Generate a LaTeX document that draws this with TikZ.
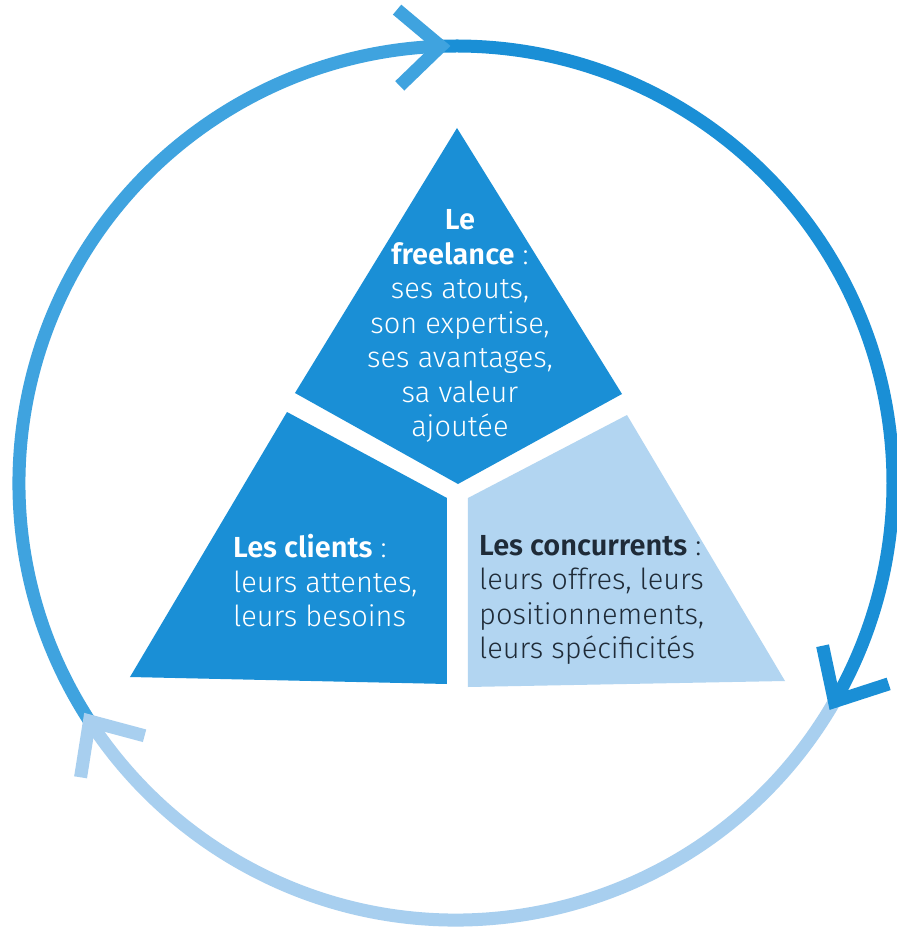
\documentclass[tikz,border=0pt]{standalone}
\usepackage{fontspec}
\setmainfont{Fira Sans Light}[BoldFont={Fira Sans SemiBold}]
\begin{document}
\begin{tikzpicture}[x=1pt,y=1pt,
  cycle/.style={line width=13pt,line cap=butt},
  head/.style={line width=13pt,line cap=butt,line join=miter},
  piece/.style={draw=none},
  label/.style={inner sep=0pt,font=\fontsize{29}{34.5}\selectfont},
]
\definecolor{deepblue}{HTML}{1A8FD6}
\definecolor{midblue}{HTML}{3FA3DF}
\definecolor{paleblue}{HTML}{A8CFEF}
\definecolor{piecepale}{HTML}{B2D5F1}
\definecolor{inkdark}{HTML}{1F2B38}
% page frame, circle centre at the origin
\useasboundingbox (-456,-449) rectangle (441,483);
\fill[white] (-456,-449) rectangle (441,483);

% the three arcs of the cycle (clockwise)
\draw[cycle,midblue]  (213:437) arc[start angle=213,end angle=92,radius=437];
\draw[cycle,deepblue] (92:437) arc[start angle=92,end angle=-30,radius=437];
\draw[cycle,paleblue] (-30:437) arc[start angle=-30,end angle=-147,radius=437];

% arrow heads at the ends of the arcs
\coordinate (tipTop)   at (92:437);
\coordinate (tipRight) at (-30:437);
\coordinate (tipLeft)  at (213:437);
\draw[head,midblue]  (tipTop)   ++(224:57) -- (tipTop)   -- ++(140:57);
\draw[head,deepblue] (tipRight) ++(102:57) -- (tipRight) -- ++(18:57);
\draw[head,paleblue] (tipLeft)  ++(345:57) -- (tipLeft)  -- ++(261:57);

% the triangle, split in three pieces
\fill[piece,deepblue]  (1,355) -- (166,89) -- (2,-1) -- (-161,90) -- cycle;
\fill[piece,deepblue]  (-169,71) -- (-9,-15) -- (-9,-201) -- (-326,-194) -- cycle;
\fill[piece,piecepale] (171,68) -- (12,-15) -- (12,-204) -- (329,-198) -- cycle;

% texts
\node[label,text=white,align=center] (freelance) at (4,157)
  {\textbf{Le}\\\textbf{freelance} :\\ses atouts,\\son expertise,\\ses avantages,\\sa valeur\\ajoutée};
\node[label,text=white,align=left,anchor=west] (clients) at (-223,-98)
  {\textbf{Les clients} :\\leurs attentes,\\leurs besoins};
\node[label,text=inkdark,align=left,anchor=west] (concurrents) at (23,-117)
  {\textbf{Les concurrents} :\\leurs offres, leurs\\positionnements,\\leurs spécificités};
\end{tikzpicture}
\end{document}
